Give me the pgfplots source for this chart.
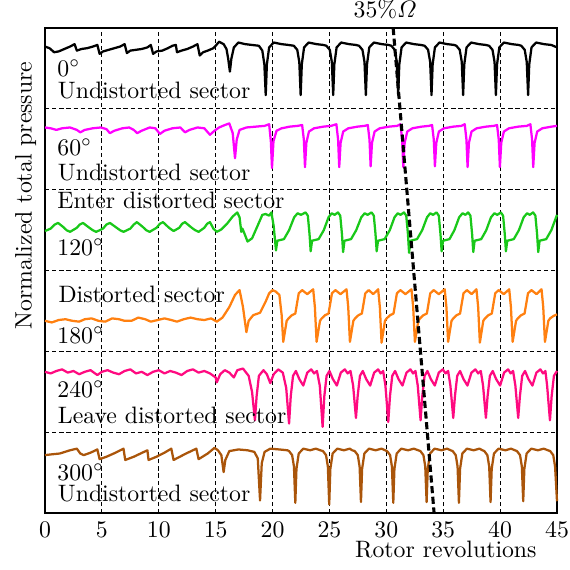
\documentclass[border=0pt]{standalone}
\usepackage{amsmath}
\usepackage{pgfplots}
\pgfplotsset{compat=1.18}

\definecolor{cmag}{RGB}{255,0,255}
\definecolor{cgreen}{RGB}{25,200,25}
\definecolor{corange}{RGB}{255,128,16}
\definecolor{cpink}{RGB}{255,10,128}
\definecolor{cbrown}{RGB}{170,85,10}

\begin{document}
\begin{tikzpicture}
\begin{axis}[
  name=ax,
  scale only axis,
  width=215.5pt, height=204.3pt,
  xmin=0, xmax=45, ymin=0, ymax=6,
  xtick={0,5,...,45},
  ytick={1,2,3,4,5}, yticklabels={},
  major tick length=0pt,
  grid=major,
  grid style={black, line width=0.45pt, dash pattern=on 1.8pt off 1.2pt},
  axis line style={line width=0.9pt},
  clip=false,
  xlabel={Rotor revolutions},
  xlabel style={at={(axis description cs:0.961,0)}, anchor=north east, inner sep=0pt, yshift=-11.3pt},
  ylabel={Normalized total pressure},
  ylabel style={at={(axis description cs:-0.016,0.655)}, anchor=south, inner sep=0pt},
  every axis plot/.append style={line width=0.95pt, no markers, line join=round},
]
% 0 deg
\addplot[black] coordinates {
(0,5.77) (0.4,5.75) (0.8,5.70) (1.2,5.71) (1.7,5.74) (2.2,5.77) (2.6,5.80) (2.8,5.72) (3.2,5.74) (3.7,5.75) (4.2,5.77) (4.6,5.79) (4.8,5.68) (5.1,5.71) (5.6,5.73) (6.1,5.75) (6.6,5.77) (7.0,5.80) (7.2,5.69) (7.5,5.72) (8.0,5.73) (8.5,5.74) (9.0,5.76) (9.3,5.79) (9.5,5.68) (9.8,5.71) (10.3,5.72) (10.8,5.75) (11.2,5.78) (11.5,5.79) (11.6,5.70) (12.0,5.72) (12.5,5.74) (13.0,5.77) (13.4,5.80) (13.6,5.66) (13.9,5.70) (14.3,5.72) (14.8,5.75) (15.0,5.78)
(15.3,5.83) (15.7,5.80) (15.95,5.74) (16.1,5.62) (16.25,5.46) (16.38,5.62) (16.6,5.76) (17.0,5.82) (17.6,5.80) (18.2,5.79) (18.8,5.78) (19.1,5.72) (19.28,5.55) (19.4,5.17) (19.5,5.55) (19.7,5.76) (20.1,5.82) (20.8,5.80) (21.4,5.79)
(21.87,5.78) (22.17,5.73) (22.35,5.58) (22.47,5.17) (22.57,5.55) (22.77,5.76) (23.17,5.82) (23.87,5.80) (24.47,5.79)
(24.73,5.78) (25.03,5.73) (25.21,5.58) (25.33,5.17) (25.43,5.55) (25.63,5.76) (26.03,5.82) (26.73,5.80) (27.33,5.79)
(27.6,5.78) (27.9,5.73) (28.08,5.58) (28.2,5.17) (28.3,5.55) (28.5,5.76) (28.9,5.82) (29.6,5.80) (30.2,5.79)
(30.44,5.78) (30.74,5.73) (30.92,5.58) (31.04,5.17) (31.14,5.55) (31.34,5.76) (31.74,5.82) (32.44,5.80) (33.04,5.79)
(33.37,5.78) (33.67,5.73) (33.85,5.58) (33.97,5.17) (34.07,5.55) (34.27,5.76) (34.67,5.82) (35.37,5.80) (35.97,5.79)
(36.15,5.78) (36.45,5.73) (36.63,5.58) (36.75,5.17) (36.85,5.55) (37.05,5.76) (37.45,5.82) (38.15,5.80) (38.75,5.79)
(39.03,5.78) (39.33,5.73) (39.51,5.58) (39.63,5.17) (39.73,5.55) (39.93,5.76) (40.33,5.82) (41.03,5.80) (41.63,5.79)
(41.86,5.78) (42.16,5.73) (42.34,5.58) (42.46,5.17) (42.56,5.55) (42.76,5.76) (43.16,5.82) (43.86,5.80) (44.5,5.79) (45,5.76)
};
% 60 deg
\addplot[cmag] coordinates {
(0,4.77) (0.5,4.76) (1.0,4.74) (1.5,4.76) (2.2,4.77) (2.8,4.74) (3.1,4.71) (3.5,4.74) (4.2,4.76) (4.9,4.77) (5.4,4.75) (5.7,4.70) (6.1,4.73) (6.8,4.76) (7.4,4.77) (7.8,4.74) (8.1,4.70) (8.5,4.73) (9.2,4.77) (9.7,4.76) (10.1,4.69) (10.5,4.73) (11.2,4.76) (11.9,4.77) (12.3,4.71) (12.7,4.74) (13.4,4.77) (14.0,4.76) (14.5,4.68) (14.9,4.73)
(15.3,4.77) (15.8,4.80) (16.2,4.82) (16.5,4.70) (16.7,4.39) (16.85,4.62) (17.1,4.74) (17.7,4.77) (18.5,4.78) (19.3,4.79) (19.7,4.81) (19.85,4.60) (19.95,4.27) (20.08,4.60) (20.35,4.73) (20.8,4.76) (21.5,4.78) (22.2,4.79)
(22.6,4.80) (22.75,4.62) (22.85,4.28) (22.97,4.58) (23.2,4.72) (23.65,4.76) (24.45,4.78) (25.15,4.79)
(25.61,4.81) (25.76,4.62) (25.86,4.28) (25.98,4.58) (26.21,4.72) (26.66,4.76) (27.46,4.78) (28.1,4.79)
(28.37,4.80) (28.52,4.62) (28.62,4.29) (28.74,4.58) (28.97,4.72) (29.42,4.76) (30.22,4.78) (30.95,4.79)
(31.24,4.81) (31.39,4.62) (31.49,4.28) (31.61,4.58) (31.84,4.72) (32.29,4.76) (33.09,4.78) (33.75,4.79)
(34.02,4.80) (34.17,4.62) (34.27,4.29) (34.39,4.58) (34.62,4.72) (35.07,4.76) (35.87,4.78) (36.6,4.79)
(36.89,4.81) (37.04,4.62) (37.14,4.28) (37.26,4.58) (37.49,4.72) (37.94,4.76) (38.74,4.78) (39.45,4.79)
(39.73,4.80) (39.88,4.62) (39.98,4.28) (40.1,4.58) (40.33,4.72) (40.78,4.76) (41.58,4.78) (42.35,4.79)
(42.66,4.81) (42.81,4.62) (42.91,4.28) (43.03,4.58) (43.26,4.72) (43.71,4.76) (44.5,4.78) (45,4.79)
};
% 120 deg
\addplot[cgreen] coordinates {
(0,3.49) (0.5,3.52) (0.85,3.57) (1.15,3.59) (1.6,3.54) (1.9,3.50) (2.2,3.48) (2.8,3.53) (3.05,3.57) (3.34,3.59) (3.9,3.53) (4.2,3.50) (4.5,3.48) (5.1,3.52) (5.4,3.57) (5.71,3.59) (6.3,3.53) (6.6,3.50) (6.9,3.48) (7.5,3.52) (7.8,3.57) (8.08,3.60) (8.6,3.54) (8.9,3.50) (9.2,3.48) (9.8,3.53) (10.1,3.58) (10.37,3.60) (10.9,3.53) (11.3,3.49) (11.8,3.53) (12.05,3.58) (12.3,3.60) (12.9,3.53) (13.2,3.50) (13.5,3.48) (14.0,3.53) (14.25,3.58) (14.5,3.60) (14.8,3.52) (15.1,3.48)
(15.5,3.51) (16.0,3.58) (16.5,3.67) (16.9,3.72) (17.1,3.66) (17.25,3.48) (17.35,3.52) (17.5,3.47) (17.8,3.36) (18.2,3.40) (18.7,3.56) (19.1,3.69) (19.4,3.70) (19.7,3.68) (19.9,3.72) (20.1,3.55) (20.3,3.25)
(20.42,3.37) (21.0,3.39) (21.45,3.50) (21.9,3.66) (22.2,3.71) (22.5,3.69) (22.9,3.72) (23.1,3.68) (23.25,3.45) (23.35,3.24)
(23.47,3.37) (24.05,3.39) (24.5,3.50) (24.92,3.66) (25.2,3.71) (25.45,3.69) (25.75,3.72) (25.95,3.68) (26.1,3.45) (26.2,3.23)
(26.32,3.37) (26.9,3.39) (27.35,3.50) (27.8,3.66) (28.1,3.71) (28.35,3.69) (28.7,3.72) (28.9,3.68) (29.05,3.45) (29.15,3.24)
(29.27,3.37) (29.85,3.39) (30.3,3.50) (30.72,3.66) (31.0,3.71) (31.25,3.69) (31.55,3.72) (31.75,3.68) (31.9,3.45) (32.0,3.22)
(32.12,3.37) (32.7,3.39) (33.15,3.50) (33.58,3.66) (33.86,3.71) (34.1,3.69) (34.41,3.72) (34.61,3.68) (34.76,3.45) (34.86,3.24)
(34.98,3.37) (35.55,3.39) (35.98,3.50) (36.4,3.66) (36.7,3.71) (36.95,3.69) (37.19,3.72) (37.39,3.68) (37.54,3.45) (37.64,3.23)
(37.76,3.37) (38.34,3.39) (38.78,3.50) (39.2,3.66) (39.5,3.71) (39.75,3.69) (40.06,3.72) (40.26,3.68) (40.41,3.45) (40.51,3.24)
(40.63,3.37) (41.2,3.39) (41.65,3.50) (42.07,3.66) (42.37,3.71) (42.6,3.69) (42.9,3.72) (43.1,3.68) (43.25,3.45) (43.35,3.23)
(43.47,3.37) (44.05,3.39) (44.5,3.50) (45,3.69)
};
% 180 deg
\addplot[corange] coordinates {
(0,2.38) (0.6,2.36) (1.2,2.39) (1.8,2.40) (2.4,2.38) (3.0,2.37) (3.5,2.40) (4.1,2.41) (4.7,2.38) (5.3,2.37) (5.9,2.41) (6.5,2.40) (7.0,2.38) (7.6,2.38) (8.2,2.42) (8.8,2.40) (9.3,2.37) (9.9,2.39) (10.5,2.41) (11.1,2.39) (11.6,2.37) (12.2,2.40) (12.8,2.42) (13.4,2.40) (14.0,2.39) (14.6,2.41) (15.1,2.37)
(15.6,2.42) (16.2,2.55) (16.7,2.70) (17.1,2.76) (17.4,2.55) (17.7,2.24) (17.9,2.38) (18.3,2.45) (18.9,2.48) (19.4,2.62) (19.7,2.72) (20.0,2.76) (20.3,2.74) (20.6,2.70) (20.8,2.45) (20.94,2.12)
(21.24,2.38) (21.4,2.41) (21.7,2.45) (22.0,2.47) (22.3,2.72) (22.6,2.76) (23.05,2.71) (23.57,2.77) (23.72,2.55) (23.87,2.12)
(24.17,2.38) (24.32,2.41) (24.62,2.45) (24.92,2.47) (25.22,2.72) (25.52,2.76) (25.97,2.71) (26.5,2.77) (26.65,2.55) (26.8,2.12)
(27.1,2.38) (27.25,2.41) (27.55,2.45) (27.85,2.47) (28.15,2.72) (28.45,2.76) (28.85,2.71) (29.28,2.77) (29.43,2.55) (29.58,2.11)
(29.88,2.38) (30.03,2.41) (30.33,2.45) (30.63,2.47) (30.93,2.72) (31.23,2.76) (31.68,2.71) (32.21,2.77) (32.36,2.55) (32.51,2.12)
(32.81,2.38) (32.96,2.41) (33.26,2.45) (33.56,2.47) (33.86,2.72) (34.16,2.76) (34.61,2.71) (35.13,2.77) (35.28,2.55) (35.43,2.12)
(35.73,2.38) (35.88,2.41) (36.18,2.45) (36.48,2.47) (36.78,2.72) (37.08,2.76) (37.5,2.71) (37.92,2.77) (38.07,2.55) (38.22,2.11)
(38.52,2.38) (38.67,2.41) (38.97,2.45) (39.27,2.47) (39.57,2.72) (39.87,2.76) (40.32,2.71) (40.8,2.77) (40.95,2.55) (41.1,2.12)
(41.4,2.38) (41.55,2.41) (41.85,2.45) (42.15,2.47) (42.45,2.72) (42.75,2.76) (43.2,2.71) (43.64,2.77) (43.79,2.55) (43.94,2.12)
(44.24,2.38) (44.39,2.41) (44.69,2.44) (45,2.46)
};
% 240 deg
\addplot[cpink] coordinates {
(0,1.75) (0.5,1.73) (1.0,1.76) (1.5,1.78) (2.0,1.74) (2.5,1.76) (3.0,1.72) (3.5,1.75) (4.0,1.77) (4.6,1.71) (5.0,1.75) (5.5,1.77) (6.0,1.74) (6.5,1.72) (7.0,1.76) (7.5,1.78) (8.0,1.73) (8.5,1.75) (9.0,1.71) (9.5,1.75) (10.0,1.77) (10.5,1.73) (11.0,1.76) (11.5,1.74) (12.0,1.71) (12.5,1.76) (13.0,1.78) (13.5,1.74) (14.0,1.76) (14.5,1.73) (15.0,1.68) (15.1,1.62)
(15.4,1.72) (15.8,1.77) (16.2,1.74) (16.6,1.68) (16.9,1.77) (17.4,1.79) (17.9,1.70) (18.2,1.50) (18.45,1.15) (18.6,1.45) (18.8,1.70) (19.2,1.77) (19.5,1.72) (19.8,1.61) (20.1,1.72) (20.5,1.78) (20.9,1.74) (21.2,1.55) (21.45,1.11)
(21.6,1.45) (21.8,1.70) (22.05,1.76) (22.35,1.66) (22.7,1.58) (23.05,1.74) (23.4,1.78) (23.65,1.73) (23.9,1.76) (24.15,1.58) (24.4,1.07)
(24.55,1.45) (24.75,1.70) (25.0,1.76) (25.3,1.66) (25.65,1.58) (26.0,1.74) (26.35,1.78) (26.6,1.73) (26.85,1.76) (27.08,1.58) (27.33,1.18)
(27.48,1.45) (27.68,1.70) (27.93,1.76) (28.23,1.66) (28.58,1.58) (28.93,1.74) (29.28,1.78) (29.5,1.73) (29.72,1.76) (29.92,1.58) (30.17,1.13)
(30.32,1.45) (30.52,1.70) (30.77,1.76) (31.07,1.66) (31.42,1.58) (31.77,1.74) (32.12,1.78) (32.35,1.73) (32.56,1.76) (32.76,1.58) (33.01,1.15)
(33.16,1.45) (33.36,1.70) (33.61,1.76) (33.91,1.66) (34.26,1.58) (34.61,1.74) (34.96,1.78) (35.2,1.73) (35.43,1.76) (35.63,1.58) (35.88,1.18)
(36.03,1.45) (36.23,1.70) (36.48,1.76) (36.78,1.66) (37.13,1.58) (37.48,1.74) (37.83,1.78) (38.07,1.73) (38.3,1.76) (38.5,1.58) (38.75,1.18)
(38.9,1.45) (39.1,1.70) (39.35,1.76) (39.65,1.66) (40.0,1.58) (40.35,1.74) (40.7,1.78) (40.93,1.73) (41.14,1.76) (41.34,1.58) (41.59,1.18)
(41.74,1.45) (41.94,1.70) (42.19,1.76) (42.49,1.66) (42.84,1.58) (43.19,1.74) (43.54,1.78) (43.77,1.73) (43.98,1.76) (44.13,1.58) (44.38,1.15)
(44.53,1.45) (44.73,1.70) (45,1.76)
};
% 300 deg
\addplot[cbrown] coordinates {
(0,0.72) (0.6,0.73) (1.3,0.74) (2.2,0.78) (2.8,0.80) (3.1,0.74) (3.4,0.72) (4.0,0.75) (4.6,0.79) (4.8,0.67) (5.4,0.70) (6.2,0.75) (6.9,0.80) (7.05,0.66) (7.8,0.70) (8.4,0.74) (9.0,0.78) (9.1,0.66) (9.8,0.70) (10.5,0.75) (11.1,0.80) (11.3,0.66) (12.4,0.74) (13.3,0.80) (13.5,0.67) (14.3,0.74) (14.9,0.81)
(15.2,0.78) (15.5,0.72) (15.7,0.51) (15.85,0.66) (16.2,0.77) (17.0,0.79) (17.8,0.78) (18.4,0.76) (18.7,0.68) (18.9,0.16) (19.05,0.62) (19.3,0.76) (19.8,0.80) (20.6,0.79) (21.3,0.78)
(21.45,0.77) (21.72,0.72) (21.88,0.58) (22.0,0.13) (22.1,0.55) (22.3,0.74) (22.7,0.80) (23.3,0.78) (23.8,0.80) (24.2,0.78)
(24.43,0.77) (24.7,0.72) (24.86,0.58) (24.98,0.11) (25.08,0.55) (25.28,0.74) (25.68,0.80) (26.28,0.78) (26.78,0.80) (27.0,0.78)
(27.22,0.77) (27.49,0.72) (27.65,0.58) (27.77,0.14) (27.87,0.55) (28.07,0.74) (28.47,0.80) (29.07,0.78) (29.57,0.80) (29.9,0.78)
(30.06,0.77) (30.33,0.72) (30.49,0.58) (30.61,0.13) (30.71,0.55) (30.91,0.74) (31.31,0.80) (31.91,0.78) (32.41,0.80) (32.8,0.78)
(32.99,0.77) (33.26,0.72) (33.42,0.58) (33.54,0.14) (33.64,0.55) (33.84,0.74) (34.24,0.80) (34.84,0.78) (35.34,0.80) (35.65,0.78)
(35.83,0.77) (36.1,0.72) (36.26,0.58) (36.38,0.13) (36.48,0.55) (36.68,0.74) (37.08,0.80) (37.68,0.78) (38.18,0.80) (38.45,0.78)
(38.61,0.77) (38.88,0.72) (39.04,0.58) (39.16,0.14) (39.26,0.55) (39.46,0.74) (39.86,0.80) (40.46,0.78) (40.96,0.80) (41.3,0.78)
(41.48,0.77) (41.75,0.72) (41.91,0.58) (42.03,0.15) (42.13,0.55) (42.33,0.74) (42.73,0.80) (43.33,0.78) (43.83,0.80) (44.2,0.78)
(44.4,0.77) (44.67,0.72) (44.83,0.58) (45,0.15)
};
% 35% rotor speed trace
\addplot[black, line width=1.3pt, dash pattern=on 3pt off 1.5pt] coordinates {(30.6,6) (34.2,0)};

\node[anchor=south, inner sep=0pt, yshift=3.5pt] at (axis cs:29.9,6) {$35\%\varOmega$};

\begin{scope}[every node/.style={anchor=base west, inner sep=0pt}]
\node at (axis cs:1.05,5.406) {$0^\circ$};
\node at (axis cs:1.1,5.134) {Undistorted sector};
\node at (axis cs:1.05,4.429) {$60^\circ$};
\node at (axis cs:1.1,4.120) {Undistorted sector};
\node at (axis cs:1.05,3.773) {Enter distorted sector};
\node at (axis cs:1.05,3.192) {$120^\circ$};
\node at (axis cs:1.15,2.610) {Distorted sector};
\node at (axis cs:1.05,2.103) {$180^\circ$};
\node at (axis cs:1.05,1.435) {$240^\circ$};
\node at (axis cs:1.1,1.113) {Leave distorted sector};
\node at (axis cs:1.05,0.408) {$300^\circ$};
\node at (axis cs:1.1,0.148) {Undistorted sector};
\end{scope}
\end{axis}
\pgfresetboundingbox
\path[use as bounding box] ([xshift=-18.94pt,yshift=-23.57pt]ax.south west) rectangle ([xshift=5.47pt,yshift=11.78pt]ax.north east);
\end{tikzpicture}
\end{document}
